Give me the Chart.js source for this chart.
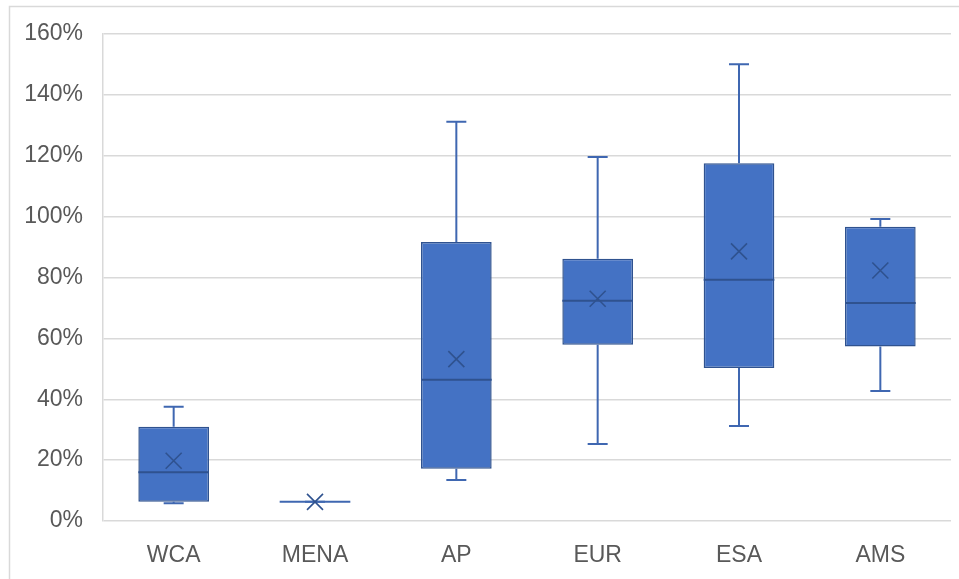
<!DOCTYPE html>
<html>
<head>
<meta charset="utf-8">
<script src="https://cdn.jsdelivr.net/npm/chart.js@4/dist/chart.umd.min.js"></script>
<style>
  html, body { margin: 0; padding: 0; background: #fff; }
  #wrap { position: relative; width: 959px; height: 579px; }
</style>
</head>
<body>
<div id="wrap"><canvas id="boxChart"></canvas></div>
<script>
// box plot statistics per region (percent)
const categories = ['WCA', 'MENA', 'AP', 'EUR', 'ESA', 'AMS'];
const minVals    = [5.8, 6.3, 13.5, 25.3, 31.2, 42.7];
const q1Vals     = [6.3, 6.3, 17.2, 57.9, 50.3, 57.3];
const medianVals = [16.0, 6.3, 46.4, 72.4, 79.3, 71.6];
const q3Vals     = [31.0, 6.3, 91.7, 86.2, 117.5, 96.7];
const maxVals    = [37.5, 6.3, 131.2, 119.6, 150.1, 99.2];
const meanVals   = [19.8, 6.3, 53.2, 73.0, 88.6, 82.3];
const yTicks     = [0, 20, 40, 60, 80, 100, 120, 140, 160];

const boxFill = '#4472C4';
const boxEdge = '#2F528F';
const whiskerColor = '#3F67B1';

//################### Outer frame ###################
const framePlugin = {
    id: 'frame',
    beforeDraw(chart) {
        const ctx = chart.ctx;
        ctx.save();
        ctx.fillStyle = '#fff';
        ctx.fillRect(0, 0, chart.width, chart.height);
        ctx.strokeStyle = '#d9d9d9';
        ctx.lineWidth = 1.5;
        ctx.strokeRect(9.5, 6.5, chart.width + 20, chart.height + 20);
        ctx.restore();
    }
};

//################### Whiskers, medians and means ###################
const boxPlotPlugin = {
    id: 'boxExtras',
    afterDatasetsDraw(chart) {
        const ctx = chart.ctx;
        const y = chart.scales.y;
        const bars = chart.getDatasetMeta(0).data;
        ctx.save();
        bars.forEach((bar, i) => {
            const x = bar.x;
            const half = bar.width / 2;
            const cap = 10;

            // whiskers
            ctx.strokeStyle = whiskerColor;
            ctx.lineWidth = 2;
            ctx.beginPath();
            ctx.moveTo(x, y.getPixelForValue(q3Vals[i]));
            ctx.lineTo(x, y.getPixelForValue(maxVals[i]));
            ctx.moveTo(x, y.getPixelForValue(q1Vals[i]));
            ctx.lineTo(x, y.getPixelForValue(minVals[i]));
            ctx.moveTo(x - cap, y.getPixelForValue(maxVals[i]));
            ctx.lineTo(x + cap, y.getPixelForValue(maxVals[i]));
            ctx.moveTo(x - cap, y.getPixelForValue(minVals[i]));
            ctx.lineTo(x + cap, y.getPixelForValue(minVals[i]));
            ctx.stroke();

            // median line
            const my = y.getPixelForValue(medianVals[i]);
            ctx.strokeStyle = q1Vals[i] === q3Vals[i] ? whiskerColor : boxEdge;
            ctx.lineWidth = 2;
            ctx.beginPath();
            ctx.moveTo(x - half, my);
            ctx.lineTo(x + half, my);
            ctx.stroke();

            // mean marker
            const ay = y.getPixelForValue(meanVals[i]);
            const s = 8;
            ctx.strokeStyle = boxEdge;
            ctx.lineWidth = 1.6;
            ctx.beginPath();
            ctx.moveTo(x - s, ay - s);
            ctx.lineTo(x + s, ay + s);
            ctx.moveTo(x + s, ay - s);
            ctx.lineTo(x - s, ay + s);
            ctx.stroke();
        });
        ctx.restore();
    }
};

const boxCtx = document.getElementById('boxChart').getContext('2d');
new Chart(boxCtx, {
    type: 'bar',
    data: {
        labels: categories,
        datasets: [{
            label: 'IQR',
            data: categories.map((c, i) => [q1Vals[i], q3Vals[i]]),
            backgroundColor: boxFill,
            borderColor: boxEdge,
            borderWidth: 1.5,
            borderSkipped: false,
            categoryPercentage: 1,
            barPercentage: 0.5
        }]
    },
    options: {
        responsive: true,
        maintainAspectRatio: false,
        animation: false,
        layout: {
            padding: { left: 0, right: 8, top: 34, bottom: 0 }
        },
        plugins: {
            legend: { display: false },
            tooltip: { enabled: false }
        },
        scales: {
            x: {
                grid: { display: false, drawTicks: false },
                border: { display: false },
                afterFit: (scale) => { scale.height = 58; },
                ticks: {
                    color: '#595959',
                    padding: 21,
                    font: { family: 'Liberation Sans', size: 23 }
                }
            },
            y: {
                min: 0,
                max: 160,
                afterBuildTicks: (scale) => {
                    scale.ticks = yTicks.map(v => ({ value: v }));
                },
                afterFit: (scale) => { scale.width = 103; },
                grid: { color: '#d9d9d9', lineWidth: 1.5, drawTicks: false },
                border: { display: true, color: '#d9d9d9', width: 1.5 },
                ticks: {
                    color: '#595959',
                    padding: 20,
                    font: { family: 'Liberation Sans', size: 23 },
                    callback: (v) => v + '%'
                }
            }
        }
    },
    plugins: [framePlugin, boxPlotPlugin]
});
</script>
</body>
</html>
